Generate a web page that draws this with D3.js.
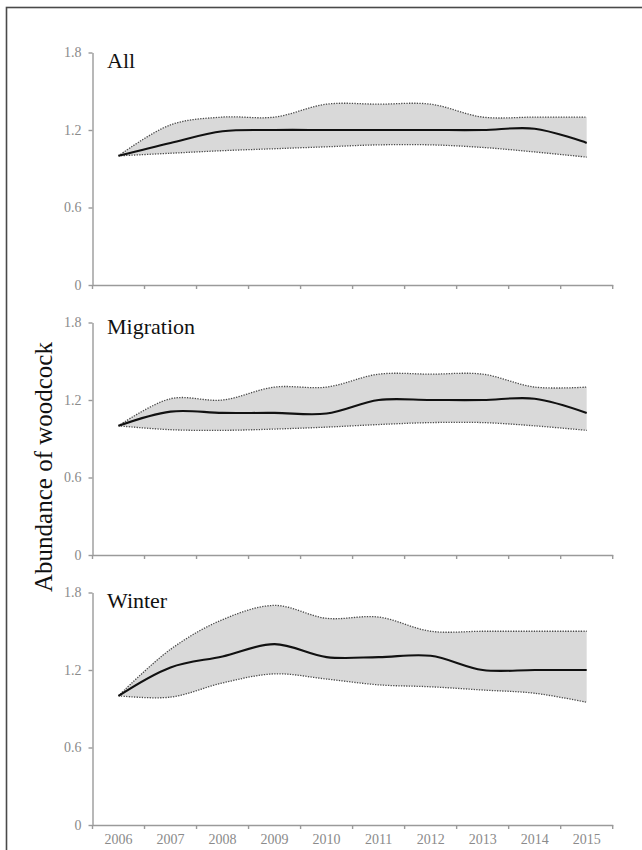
<!DOCTYPE html>
<html>
<head>
<meta charset="utf-8">
<script src="https://cdn.jsdelivr.net/npm/d3@7/dist/d3.min.js"></script>
<style>
html,body{margin:0;padding:0;background:#fff;}
svg{display:block;}
</style>
</head>
<body>
<svg id="chart" width="642" height="850"></svg>
<script>
const years = [2006, 2007, 2008, 2009, 2010, 2011, 2012, 2013, 2014, 2015];
const yTicks = [0, 0.6, 1.2, 1.8];
const panelNames = ["All", "Migration", "Winter"];

const allMean  = [1.00, 1.10, 1.19, 1.20, 1.20, 1.20, 1.20, 1.20, 1.21, 1.10];
const allUpper = [1.00, 1.24, 1.30, 1.30, 1.40, 1.40, 1.40, 1.30, 1.30, 1.30];
const allLower = [1.00, 1.02, 1.04, 1.055, 1.07, 1.085, 1.085, 1.065, 1.03, 0.99];

const migMean  = [1.00, 1.11, 1.10, 1.10, 1.095, 1.20, 1.20, 1.20, 1.21, 1.10];
const migUpper = [1.00, 1.21, 1.20, 1.30, 1.30, 1.40, 1.40, 1.40, 1.30, 1.30];
const migLower = [1.00, 0.97, 0.965, 0.975, 0.99, 1.01, 1.025, 1.025, 1.00, 0.965];

const winMean  = [1.00, 1.22, 1.305, 1.40, 1.30, 1.30, 1.31, 1.20, 1.20, 1.20];
const winUpper = [1.00, 1.36, 1.59, 1.70, 1.60, 1.61, 1.50, 1.50, 1.50, 1.50];
const winLower = [1.00, 0.99, 1.10, 1.17, 1.13, 1.085, 1.07, 1.045, 1.02, 0.95];

const panelMeans = [allMean, migMean, winMean];
const panelUppers = [allUpper, migUpper, winUpper];
const panelLowers = [allLower, migLower, winLower];

const svg = d3.select("#chart");
const FONT = "'Liberation Serif','Times New Roman',Times,serif";
const axisColor = "#9a9a9a";
const labelColor = "#8a8a8a";

// outer frame
svg.append("rect")
  .attr("x", 6.5).attr("y", 7.5)
  .attr("width", 700).attr("height", 900)
  .attr("fill", "none").attr("stroke", "#4a4a4a").attr("stroke-width", 1.6);

const x = d3.scaleBand().domain(years).range([92.5, 612.7]).padding(0);
const xc = d => x(d) + x.bandwidth() / 2;

const bottoms = [285, 555, 825];
const titleBaselines = [68, 334, 608];
const span = 232.5;

const curve = d3.curveCatmullRom.alpha(0.5);

bottoms.forEach((b, p) => {
  const y = d3.scaleLinear().domain([0, 1.8]).range([b, b - span]);
  const g = svg.append("g");

  const rows = years.map((yr, i) => ({
    yr, m: panelMeans[p][i], u: panelUppers[p][i], l: panelLowers[p][i]
  }));

  // band
  g.append("path").datum(rows)
    .attr("d", d3.area().x(d => xc(d.yr)).y0(d => y(d.l)).y1(d => y(d.u)).curve(curve))
    .attr("fill", "#d9d9d9").attr("stroke", "none");

  ["u", "l"].forEach(k => {
    g.append("path").datum(rows)
      .attr("d", d3.line().x(d => xc(d.yr)).y(d => y(d[k])).curve(curve))
      .attr("fill", "none").attr("stroke", "#4a4a4a")
      .attr("stroke-width", 1.3).attr("stroke-dasharray", "1.3,1.3");
  });

  g.append("path").datum(rows)
    .attr("d", d3.line().x(d => xc(d.yr)).y(d => y(d.m)).curve(curve))
    .attr("fill", "none").attr("stroke", "#111").attr("stroke-width", 2.1);

  // y axis
  const ya = svg.append("g").attr("transform", `translate(${x.range()[0]},0)`)
    .call(d3.axisLeft(y).tickValues(yTicks).tickSize(4).tickSizeOuter(0).tickPadding(7)
      .tickFormat(d => d === 0 ? "0" : d3.format(".1f")(d)));
  ya.select(".domain").attr("stroke", axisColor).attr("stroke-width", 1.4);
  ya.selectAll(".tick line").attr("stroke", axisColor).attr("stroke-width", 1.4);
  ya.selectAll(".tick text").attr("fill", labelColor)
    .style("font-family", FONT).style("font-size", "14px");

  // x axis: labels at band centres, ticks on band boundaries
  const xa = svg.append("g").attr("transform", `translate(0,${b})`)
    .call(d3.axisBottom(x).tickSize(0).tickSizeOuter(0).tickPadding(9));
  xa.select(".domain").attr("stroke", axisColor).attr("stroke-width", 1.4);
  xa.selectAll(".tick line").remove();
  if (p < 2) {
    xa.selectAll(".tick text").remove();
  } else {
    xa.selectAll(".tick text").attr("fill", labelColor)
      .style("font-family", FONT).style("font-size", "14px");
  }
  const bounds = years.map(d => x(d)).concat([x.range()[1]]);
  xa.selectAll("line.bt").data(bounds).join("line").attr("class", "bt")
    .attr("x1", d => d).attr("x2", d => d).attr("y1", 0).attr("y2", 4)
    .attr("stroke", axisColor).attr("stroke-width", 1.4);

  // panel title
  svg.append("text").attr("x", 107).attr("y", titleBaselines[p])
    .text(panelNames[p])
    .style("font-family", FONT).style("font-size", "22px").attr("fill", "#111");
});

// y axis title
svg.append("text")
  .attr("transform", "translate(52,467) rotate(-90)")
  .attr("text-anchor", "middle")
  .text("Abundance of woodcock")
  .style("font-family", FONT).style("font-size", "25px").attr("fill", "#111");
</script>
</body>
</html>
